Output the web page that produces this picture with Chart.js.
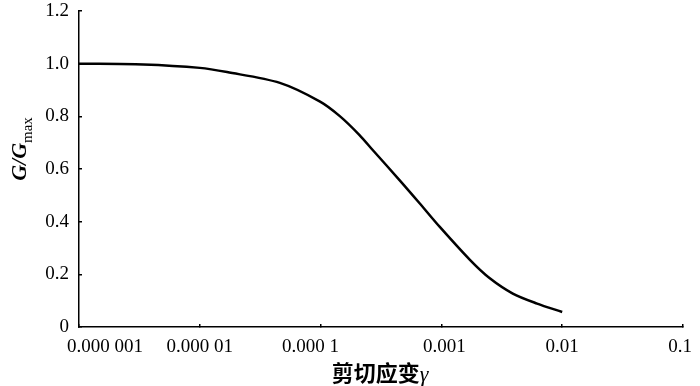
<!DOCTYPE html>
<html>
<head>
<meta charset="utf-8">
<script src="https://cdn.jsdelivr.net/npm/chart.js@4/dist/chart.umd.min.js"></script>
<style>
html,body{margin:0;padding:0;background:#fff;}
#wrap{width:700px;height:386px;position:relative;}
</style>
</head>
<body>
<div id="wrap"><canvas id="c" width="700" height="386"></canvas></div>
<script>
// Shear strain (gamma) values and G/Gmax
const strain = [1e-6, 3.4e-6, 1e-5, 1.68e-5, 4.6e-5, 9.9e-5, 1.45e-4, 2.1e-4, 2.7e-4, 4.5e-4, 6.6e-4, 9.7e-4, 1.73e-3, 2.5e-3, 3.9e-3, 6.2e-3, 1e-2];
const ratio  = [1.0,  0.997,  0.984, 0.968,  0.927,  0.856,  0.80,    0.729,  0.672,  0.558,  0.47,   0.38,   0.254,   0.186,  0.127,  0.089,  0.057];
const xTicks = [1e-6, 1e-5, 1e-4, 1e-3, 1e-2, 1e-1];
const xTickLabels = ['0.000 001', '0.000 01', '0.000 1', '0.001', '0.01', '0.1'];
const yTicks = [0, 0.2, 0.4, 0.6, 0.8, 1.0, 1.2];
const yTickLabels = ['0', '0.2', '0.4', '0.6', '0.8', '1.0', '1.2'];
const xTitle = '剪切应变';
const xTitleSym = 'γ';

const serif = '"Liberation Serif", "DejaVu Serif", serif';
// label nudges (style only), matching how the source placed its x labels
const xLabelNudge = [0, 0, -10, 3, 0, -3];

const titlePlugin = {
  id: 'titles',
  afterDraw(chart) {
    const ctx = chart.ctx;
    const xs = chart.scales.x;
    ctx.save();
    ctx.fillStyle = '#000';
    // X tick labels
    ctx.font = '19px ' + serif;
    ctx.textBaseline = 'middle';
    xTicks.forEach((v, i) => {
      const px = xs.getPixelForValue(v);
      if (i === 0) {
        ctx.textAlign = 'left';
        ctx.fillText(xTickLabels[i], chart.chartArea.left - 12, 347);
      } else {
        ctx.textAlign = 'center';
        ctx.fillText(xTickLabels[i], px + xLabelNudge[i], 347);
      }
    });
    // X title
    ctx.textBaseline = 'alphabetic';
    ctx.font = 'bold 22px "Noto Sans CJK SC", sans-serif';
    const w1 = ctx.measureText(xTitle).width;
    ctx.font = 'italic 22px ' + serif;
    const w2 = ctx.measureText(xTitleSym).width;
    const cx = 380;
    let x0 = cx - (w1 + w2) / 2;
    ctx.font = 'bold 22px "Noto Sans CJK SC", sans-serif';
    ctx.textAlign = 'left';
    ctx.fillText(xTitle, x0, 381);
    ctx.font = 'italic 22px ' + serif;
    ctx.fillText(xTitleSym, x0 + w1, 381);
    // Y title rotated
    ctx.translate(26, 149);
    ctx.rotate(-Math.PI / 2);
    ctx.font = 'italic bold 22px ' + serif;
    const a = ctx.measureText('G/G').width;
    ctx.font = '15px ' + serif;
    const b = ctx.measureText('max').width;
    let sx = -(a + b) / 2;
    ctx.font = 'italic bold 22px ' + serif;
    ctx.fillText('G/G', sx, 0);
    ctx.font = '15px ' + serif;
    ctx.fillText('max', sx + a, 6);
    ctx.restore();
  }
};

function zeroPad(scale) {
  scale.paddingTop = 0; scale.paddingBottom = 0;
  scale.paddingLeft = 0; scale.paddingRight = 0;
}

new Chart(document.getElementById('c'), {
  type: 'line',
  data: {
    datasets: [{
      data: strain.map((s, i) => ({x: s, y: ratio[i]})),
      borderColor: '#000',
      borderWidth: 2.5,
      pointRadius: 0,
      fill: false,
      tension: 0.3
    }]
  },
  options: {
    responsive: false,
    animation: false,
    devicePixelRatio: 1,
    layout: {padding: {top: 11, right: 17, left: 0, bottom: 0}},
    plugins: {legend: {display: false}, tooltip: {enabled: false}},
    scales: {
      x: {
        type: 'logarithmic',
        min: 1e-6, max: 0.1,
        afterBuildTicks(scale) { scale.ticks = xTicks.map(v => ({value: v})); },
        afterFit(scale) { scale.height = 59; zeroPad(scale); },
        border: {color: '#000', width: 1.5},
        grid: {drawOnChartArea: false, drawTicks: true, tickLength: -3, color: '#000', lineWidth: 1.5},
        ticks: {
          autoSkip: false, maxRotation: 0, padding: 13, color: 'rgba(0,0,0,0)',
          font: {family: serif, size: 19},
          callback(v) { const i = xTicks.findIndex(t => Math.abs(Math.log10(t) - Math.log10(v)) < 1e-6); return i >= 0 ? xTickLabels[i] : ''; }
        }
      },
      y: {
        min: 0, max: 1.2,
        afterBuildTicks(scale) { scale.ticks = yTicks.map(v => ({value: v})); },
        afterFit(scale) { scale.width = 79; zeroPad(scale); },
        border: {color: '#000', width: 1.5},
        grid: {drawOnChartArea: false, drawTicks: true, tickLength: -3, color: '#000', lineWidth: 1.5},
        ticks: {
          autoSkip: false, padding: 13, color: '#000',
          font: {family: serif, size: 19},
          callback(v) { const i = yTicks.findIndex(t => Math.abs(t - v) < 1e-9); return i >= 0 ? yTickLabels[i] : ''; }
        }
      }
    }
  },
  plugins: [titlePlugin]
});
</script>
</body>
</html>
